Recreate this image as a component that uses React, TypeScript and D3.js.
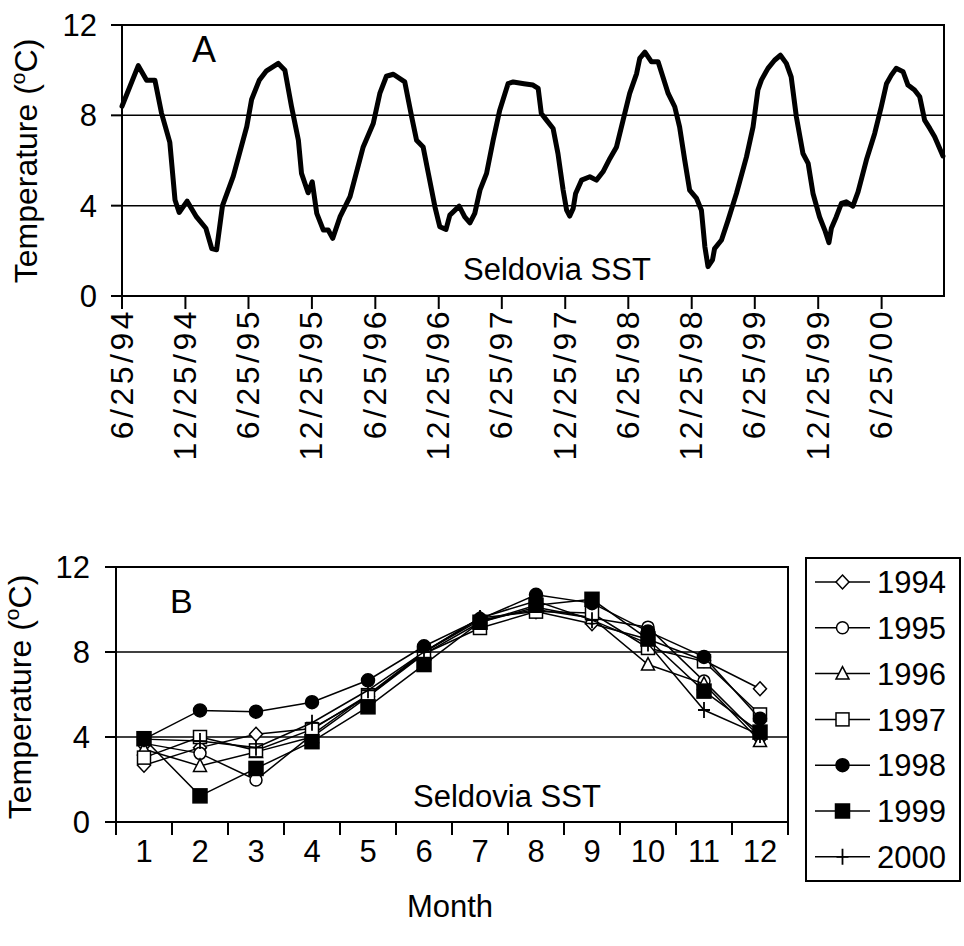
import * as d3 from "d3";

// Seldovia SST record (days after 6/25/94, deg C)
const START = new Date(1994, 5, 25);
const sstDay = [
  0, 47, 71, 95, 114, 138, 153, 165, 188, 215, 242, 259, 273, 290, 321, 360, 374, 396, 417, 451,
  470, 489, 509, 518, 537, 549, 562, 581, 595, 608, 629, 658, 696, 725, 744, 763, 783, 816, 836, 850,
  869, 884, 903, 917, 935, 946, 973, 989, 1004, 1018, 1033, 1052, 1071, 1090, 1114, 1129, 1160, 1186, 1201, 1210,
  1225, 1244, 1258, 1273, 1283, 1292, 1302, 1309, 1326, 1350, 1369, 1388, 1408, 1427, 1446, 1465, 1485, 1494, 1509, 1528,
  1547, 1561, 1576, 1595, 1609, 1624, 1638, 1658, 1672, 1682, 1691, 1704, 1710, 1730, 1749, 1773, 1802, 1821, 1835, 1845,
  1864, 1883, 1900, 1917, 1931, 1946, 1965, 1980, 1994, 2013, 2028, 2040, 2047, 2061, 2076, 2090, 2109, 2124, 2148, 2172,
  2191, 2206, 2220, 2234, 2254, 2268, 2287, 2302, 2316, 2331, 2345, 2369,
];
const sstTemp = [
  8.4, 10.2, 9.55, 9.55, 8.1, 6.8, 4.25, 3.7, 4.2, 3.5, 3.0, 2.1, 2.05, 4.0, 5.3, 7.5, 8.7, 9.55, 9.97, 10.3,
  10.0, 8.4, 6.9, 5.43, 4.57, 5.06, 3.66, 2.92, 2.92, 2.55, 3.5, 4.4, 6.6, 7.64, 8.97, 9.73, 9.82, 9.48, 7.93, 6.9,
  6.6, 5.43, 3.95, 3.07, 2.95, 3.58, 3.98, 3.5, 3.24, 3.66, 4.69, 5.43, 6.9, 8.23, 9.4, 9.48, 9.4, 9.34, 9.19, 8.08,
  7.79, 7.42, 6.31, 4.69, 3.8, 3.54, 3.88, 4.54, 5.13, 5.28, 5.13, 5.5, 6.09, 6.6, 7.79, 8.97, 9.85, 10.52, 10.8, 10.37,
  10.37, 9.7, 8.97, 8.38, 7.49, 6.0, 4.69, 4.32, 3.8, 2.18, 1.3, 1.6, 2.1, 2.48, 3.36, 4.54, 6.16, 7.49, 9.12, 9.56,
  10.08, 10.44, 10.66, 10.3, 9.7, 7.93, 6.31, 5.87, 4.54, 3.5, 2.92, 2.36, 3.0, 3.5, 4.1, 4.17, 3.98, 4.61, 6.02, 7.2,
  8.38, 9.4, 9.78, 10.08, 9.93, 9.34, 9.12, 8.82, 7.79, 7.42, 7.05, 6.2,
];
const END_DAY = 2372;

const dateTicks = [
  "6/25/94", "12/25/94", "6/25/95", "12/25/95", "6/25/96", "12/25/96", "6/25/97",
  "12/25/97", "6/25/98", "12/25/98", "6/25/99", "12/25/99", "6/25/00",
];
const tempTicks = [0, 4, 8, 12];

// monthly means, panel B
const months = [1, 2, 3, 4, 5, 6, 7, 8, 9, 10, 11, 12];
const years = ["1994", "1995", "1996", "1997", "1998", "1999", "2000"];
const t1994 = [2.67, 3.5, 4.13, 4.4, 5.9, 8.0, 9.6, 9.9, 9.33, 8.6, 7.6, 6.27];
const t1995 = [3.7, 3.23, 1.98, 4.1, 6.0, 8.0, 9.5, 10.0, 9.6, 9.17, 6.63, 4.0];
const t1996 = [3.42, 2.64, 3.3, 4.0, 5.9, 7.9, 9.4, 10.1, 9.6, 7.41, 6.5, 3.81];
const t1997 = [3.03, 4.0, 3.37, 4.36, 5.97, 7.92, 9.13, 9.9, 9.83, 8.19, 7.56, 5.06];
const t1998 = [3.9, 5.25, 5.19, 5.64, 6.67, 8.27, 9.55, 10.69, 10.3, 8.97, 7.77, 4.86];
const t1999 = [3.92, 1.23, 2.52, 3.78, 5.42, 7.41, 9.4, 10.2, 10.48, 8.61, 6.16, 4.23];
const t2000 = [3.9, 3.81, 3.5, 4.67, 6.2, 8.0, 9.6, 10.4, 9.5, 8.4, 5.27, 4.1];
const yearValues = [t1994, t1995, t1996, t1997, t1998, t1999, t2000];
const markers = ["diamond", "circle", "triangle", "square", "dot", "block", "plus"];

const FONT = "'Liberation Sans', Arial, sans-serif";
const FS = 31;

function Marker({ kind, x, y }: { kind: string; x: number; y: number }) {
  const s = { stroke: "#000", strokeWidth: 1.5 };
  switch (kind) {
    case "diamond":
      return <path d={`M${x},${y - 7}L${x + 6.5},${y}L${x},${y + 7}L${x - 6.5},${y}Z`} fill="#fff" {...s} />;
    case "circle":
      return <circle cx={x} cy={y} r={6} fill="#fff" {...s} />;
    case "triangle":
      return <path d={`M${x},${y - 7}L${x + 6.5},${y + 5.5}L${x - 6.5},${y + 5.5}Z`} fill="#fff" {...s} />;
    case "square":
      return <rect x={x - 6.5} y={y - 6.5} width={13} height={13} fill="#fff" {...s} />;
    case "dot":
      return <circle cx={x} cy={y} r={6.5} fill="#000" {...s} />;
    case "block":
      return <rect x={x - 7} y={y - 7} width={14} height={14} fill="#000" {...s} />;
    default:
      return (
        <path d={`M${x},${y - 8}V${y + 8}M${x - 6},${y}H${x + 6}`} fill="none" stroke="#000" strokeWidth={1.8} />
      );
  }
}

function YTitle({ x, y }: { x: number; y: number }) {
  return (
    <text transform={`translate(${x},${y}) rotate(-90)`} textAnchor="middle" fontSize={32}>
      <tspan>Temperature (</tspan>
      <tspan fontSize={21} dy={-12}>o</tspan>
      <tspan dy={12}>C)</tspan>
    </text>
  );
}

export default function App() {
  const parseTick = d3.timeParse("%m/%d/%y");

  // ---- panel A ----
  const x = d3.scaleTime()
    .domain([START, d3.timeDay.offset(START, END_DAY)])
    .range([122, 944]);
  const yA = d3.scaleLinear().domain([0, 12]).range([296, 25]);
  const sst = sstDay.map((d, i) => ({ date: d3.timeDay.offset(START, d), t: sstTemp[i] }));
  const lineA = d3.line<{ date: Date; t: number }>()
    .x(d => x(d.date))
    .y(d => yA(d.t));

  // ---- panel B ----
  const xB = d3.scaleLinear().domain([0.5, 12.5]).range([116, 788]);
  const yB = d3.scaleLinear().domain([0, 12]).range([822, 567]);
  const lineB = d3.line<number>()
    .x((_, i) => xB(months[i]))
    .y(d => yB(d));
  const bTicks = d3.range(0.5, 13, 1);

  return (
    <svg width={964} height={946} style={{ position: "absolute", left: 0, top: 0, background: "#fff" }} fontFamily={FONT}>
      {/* panel A */}
      <g>
        {[4, 8].map(t => (
          <line key={t} x1={122} x2={944} y1={yA(t)} y2={yA(t)} stroke="#000" strokeWidth={1.5} />
        ))}
        <rect x={122} y={yA(12)} width={944 - 122} height={yA(0) - yA(12)} fill="none" stroke="#000" strokeWidth={2} />
        {tempTicks.map(t => (
          <g key={t}>
            <line x1={111} x2={122} y1={yA(t)} y2={yA(t)} stroke="#000" strokeWidth={2} />
            <text x={97} y={yA(t)} dy="0.36em" textAnchor="end" fontSize={FS}>{t}</text>
          </g>
        ))}
        {dateTicks.map(s => {
          const px = x(parseTick(s) as Date);
          return (
            <g key={s}>
              <line x1={px} x2={px} y1={296} y2={309} stroke="#000" strokeWidth={2} />
              <text transform={`translate(${px - 1},308) rotate(-90)`} dy="0.36em" textAnchor="end"
                fontSize={32} letterSpacing={3.5}>{s}</text>
            </g>
          );
        })}
        <path d={lineA(sst) || ""} fill="none" stroke="#000" strokeWidth={5} strokeLinejoin="round" strokeLinecap="round" />
        <text x={192} y={62} fontSize={36}>A</text>
        <text x={463} y={280} fontSize={FS}>Seldovia SST</text>
        <YTitle x={37} y={161} />
      </g>

      {/* panel B */}
      <g>
        {[4, 8].map(t => (
          <line key={t} x1={116} x2={788} y1={yB(t)} y2={yB(t)} stroke="#000" strokeWidth={1.5} />
        ))}
        <rect x={116} y={yB(12)} width={788 - 116} height={yB(0) - yB(12)} fill="none" stroke="#000" strokeWidth={2} />
        {tempTicks.map(t => (
          <g key={t}>
            <line x1={105} x2={116} y1={yB(t)} y2={yB(t)} stroke="#000" strokeWidth={2} />
            <text x={90} y={yB(t)} dy="0.36em" textAnchor="end" fontSize={FS}>{t}</text>
          </g>
        ))}
        {bTicks.map(t => (
          <line key={t} x1={xB(t)} x2={xB(t)} y1={822} y2={835} stroke="#000" strokeWidth={2} />
        ))}
        {months.map(m => (
          <text key={m} x={xB(m)} y={862} textAnchor="middle" fontSize={FS}>{m}</text>
        ))}
        <text x={450} y={917} textAnchor="middle" fontSize={FS}>Month</text>
        <text x={170} y={613} fontSize={34}>B</text>
        <text x={413} y={807} fontSize={FS}>Seldovia SST</text>
        <YTitle x={31} y={697} />

        {yearValues.map((vals, k) => (
          <g key={years[k]}>
            <path d={lineB(vals) || ""} fill="none" stroke="#000" strokeWidth={1.5} />
            {vals.map((v, i) => (
              <Marker key={i} kind={markers[k]} x={xB(months[i])} y={yB(v)} />
            ))}
          </g>
        ))}

        {/* legend */}
        <rect x={806} y={558} width={154} height={323} fill="#fff" stroke="#000" strokeWidth={2} />
        {years.map((yr, k) => {
          const ly = 582 + k * 45.8;
          return (
            <g key={yr}>
              <line x1={815} x2={870} y1={ly} y2={ly} stroke="#000" strokeWidth={1.5} />
              <Marker kind={markers[k]} x={842.5} y={ly} />
              <text x={877} y={ly} dy="0.36em" fontSize={FS}>{yr}</text>
            </g>
          );
        })}
      </g>
    </svg>
  );
}
